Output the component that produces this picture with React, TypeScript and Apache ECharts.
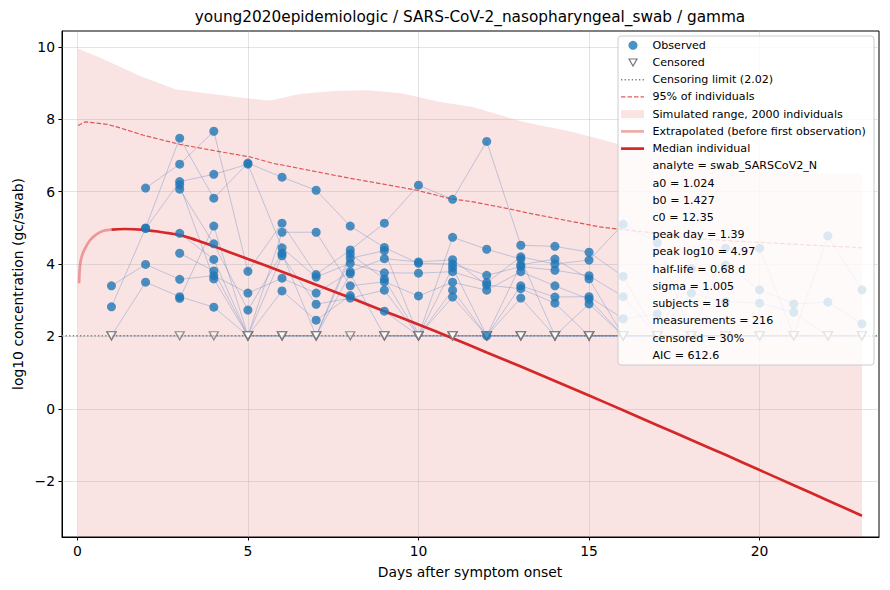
import React, { useEffect, useRef } from "react";
import * as echarts from "echarts";

const TITLE = "young2020epidemiologic / SARS-CoV-2_nasopharyngeal_swab / gamma";
const X_LABEL = "Days after symptom onset";
const Y_LABEL = "log10 concentration (gc/swab)";
const X_TICKS = [0, 5, 10, 15, 20];
const Y_TICKS = [-2, 0, 2, 4, 6, 8, 10];
const X_MIN = -0.45;
const X_MAX = 23.5;
const Y_MIN = -3.54;
const Y_MAX = 10.44;
const CENSOR_LIMIT = 2.02;

// Simulated range (upper edge; lower edge lies below the axis)
const bandDays = [0.02, 0.67, 1.84, 2.87, 3.99, 4.97, 5.65, 6.53, 7.5, 8.5, 9.5, 10.63, 11.6, 13.06, 14.53, 15.8, 17, 18, 19, 20, 21, 22, 23];
const bandUpper = [9.95, 9.7, 9.2, 8.83, 8.69, 8.58, 8.52, 8.7, 8.78, 8.8, 8.72, 8.48, 8.34, 7.93, 7.65, 7.33, 7.1, 6.9, 6.75, 6.65, 6.55, 6.5, 6.5];

// 95% of individuals
const p95Days = [0.02, 0.23, 0.87, 1.16, 1.94, 3.0, 4.09, 5.07, 5.75, 6.04, 6.53, 7.02, 8.0, 8.97, 9.95, 10.92, 11.6, 12.58, 13.27, 14.53, 15.3, 16, 17, 18, 19, 20, 21, 22, 23];
const p95Values = [7.83, 7.93, 7.86, 7.79, 7.56, 7.31, 7.12, 6.96, 6.78, 6.73, 6.64, 6.55, 6.37, 6.21, 6.04, 5.81, 5.72, 5.54, 5.4, 5.17, 5.03, 4.95, 4.85, 4.72, 4.65, 4.6, 4.55, 4.5, 4.45];

// Median individual: extrapolated part (before first observation)
const extrapDays = [0.05, 0.08, 0.14, 0.23, 0.38, 0.57, 0.77, 1.0];
const extrapValues = [3.47, 3.98, 4.25, 4.44, 4.67, 4.83, 4.92, 4.95];

// Median individual
const medianDays = [1, 1.39, 2, 2.5, 3, 3.5, 4, 5, 6, 7, 8, 9, 10, 11, 12, 13, 14, 15, 16, 17, 18, 19, 20, 21, 22, 23];
const medianValues = [4.95, 4.97, 4.94, 4.88, 4.8, 4.66, 4.49, 4.14, 3.79, 3.43, 3.07, 2.7, 2.33, 1.95, 1.56, 1.17, 0.77, 0.37, -0.04, -0.45, -0.86, -1.27, -1.69, -2.11, -2.53, -2.95];

// Subjects: [day, log10 value] ; null = censored (below limit)
type Pt = [number, number | null];
const S1: Pt[] = [[1, 3.4], [2, 3.99], [3, 3.58], [4, 3.68], [5, 3.2], [6, 3.61], [7, 3.2], [8, 3.79], [9, 4.15], [10, 4.06], [11, 4.12], [12, 3.42], [13, 3.32], [14, 2.92], [15, null], [16, null]];
const S2: Pt[] = [[1, 2.82], [2, 5.0], [3, 7.48], [4, 5.82], [5, 6.79], [6, 6.4], [7, 6.04], [8, 5.05], [9, 4.46], [10, 4.02], [11, 4.0], [12, 3.69], [13, 3.93], [14, 3.83], [15, 3.68], [16, 3.1], [17, null], [18, 3.2], [19, 2.96], [20, 2.92], [21, 2.67], [22, null], [23, null]];
const S3: Pt[] = [[1, null], [2, 3.5], [3, 3.1], [4, 2.81], [5, null], [6, 3.26], [7, 2.45], [8, 3.13], [9, 2.7], [10, null], [11, 3.09], [12, 2.02], [13, 3.06], [14, null], [15, null], [17, null]];
const S4: Pt[] = [[2, 6.1], [3, 6.76], [4, 7.67], [5, 3.8], [6, 5.13], [7, 3.71], [8, 4.39], [9, 5.13], [10, 6.18], [11, 5.79], [12, 7.39], [13, 4.52], [14, 4.49], [15, 4.33], [16, 3.66], [17, null], [18, 3.88], [19, 3.98], [20, 3.29], [21, 2.9], [22, 2.95], [23, 2.35]];
const S5: Pt[] = [[2, 4.98], [3, 6.28], [4, 6.48], [5, 6.76], [6, 4.45], [7, 3.64], [8, 4.02], [9, 3.76], [10, 3.75], [11, 3.79], [12, 3.49], [13, 4.2], [14, 4.0], [15, 4.11], [16, 5.1], [17, 4.59], [18, null], [19, 4.44], [20, 4.44], [21, null], [22, 4.78], [23, 3.29]];
const S6: Pt[] = [[3, 6.19], [4, 3.59], [5, null], [6, 4.88], [7, 4.88], [8, 3.4], [9, 3.51], [10, 3.12], [11, 3.5], [12, 3.28], [13, 3.79], [14, 3.4], [15, 3.03], [16, null], [17, null], [18, null], [19, null]];
const S7: Pt[] = [[3, 6.07], [4, 4.56], [5, 2.73], [6, 4.3], [7, null], [8, 4.28], [9, 3.59], [10, null], [11, 3.9], [12, null], [13, 3.98], [14, 4.14], [15, 3.59], [16, null], [18, null], [20, null]];
const S8: Pt[] = [[3, 4.85], [4, 4.13], [5, null], [6, 4.23], [7, 2.89], [8, 3.06], [9, 3.28], [10, null], [11, 3.28], [12, null], [13, 3.4], [14, 3.09], [15, 3.1], [16, 2.49], [17, 2.62], [18, null], [19, null], [21, null]];
const S9: Pt[] = [[3, 4.3], [4, 3.81], [5, null], [6, null], [7, null], [8, 4.16], [9, 4.37], [10, null], [11, 4.74], [12, 4.41], [13, 4.14], [14, null], [15, 2.9], [16, null], [17, null], [19, null], [22, null]];
const S10: Pt[] = [[3, 3.05], [4, 5.05], [5, null], [6, null], [7, null], [8, 3.73], [9, null], [10, null], [11, null], [12, null], [13, null], [14, null], [15, null], [16, null], [17, null], [18, null], [20, null], [21, null], [22, null], [23, null]];
const S11: Pt[] = [[1, null], [3, null], [4, null], [5, null], [6, null], [7, null], [8, null], [9, null], [10, null], [11, null], [12, null], [13, null]];
const S12: Pt[] = [[9, null], [10, null], [11, null], [12, null], [13, null], [14, null], [15, null], [16, null], [17, null], [18, null], [19, null], [20, null]];
const S13: Pt[] = [[12, null], [13, null], [14, null], [15, null], [16, null], [17, null], [18, null], [19, null], [20, null], [21, null], [22, null], [23, null]];
const SUBJECTS: Pt[][] = [S1, S2, S3, S4, S5, S6, S7, S8, S9, S10, S11, S12, S13];

const LEGEND_LABELS = [
  "Observed",
  "Censored",
  "Censoring limit (2.02)",
  "95% of individuals",
  "Simulated range, 2000 individuals",
  "Extrapolated (before first observation)",
  "Median individual",
];
const STAT_LINES = [
  "analyte = swab_SARSCoV2_N",
  "a0 = 1.024",
  "b0 = 1.427",
  "c0 = 12.35",
  "peak day = 1.39",
  "peak log10 = 4.97",
  "half-life = 0.68 d",
  "sigma = 1.005",
  "subjects = 18",
  "measurements = 216",
  "censored = 30%",
  "AIC = 612.6",
];

const FONT = "DejaVu Sans";
const RED = "#d62728";
const BLUE = "#1f77b4";

function zip(xs: number[], ys: number[]) {
  return xs.map((x, i) => [x, ys[i]]);
}

export default function App() {
  const ref = useRef<HTMLDivElement>(null);
  useEffect(() => {
    if (!ref.current) return;
    const chart = echarts.init(ref.current, undefined, { renderer: "svg" });

    const observed = SUBJECTS.flatMap((s) => s.filter((p) => p[1] !== null).map((p) => [p[0], p[1]]));
    const censored = SUBJECTS.flatMap((s) => s.filter((p) => p[1] === null).map((p) => [p[0], CENSOR_LIMIT]));

    const subjectSeries = SUBJECTS.map((s) => ({
      type: "line",
      data: s.map((p) => [p[0], p[1] === null ? CENSOR_LIMIT : p[1]]),
      symbol: "none",
      lineStyle: { color: "rgba(70,120,190,0.32)", width: 1 },
      z: 4,
      silent: true,
    }));

    // legend graphic
    const LX = 618, LY = 36, LW = 256, LH = 329;
    const rowY = (i: number) => 45.3 + i * 17.22;
    const hx0 = 621, hx1 = 644, tx = 652.5;
    const Z = 100;
    const legendEls: any[] = [
      {
        type: "rect",
        z: Z,
        shape: { x: LX, y: LY, width: LW, height: LH, r: 3 },
        style: { fill: "rgba(255,255,255,0.8)", stroke: "#cccccc", lineWidth: 1 },
      },
      { type: "circle", z: Z + 1, shape: { cx: 633, cy: rowY(0), r: 4.5 }, style: { fill: BLUE, opacity: 0.8 } },
      {
        type: "polygon",
        z: Z + 1,
        shape: { points: [[629, rowY(1) - 3.5], [637, rowY(1) - 3.5], [633, rowY(1) + 3.5]] },
        style: { fill: "#ffffff", stroke: "#777777", lineWidth: 1.2 },
      },
      { type: "line", z: Z + 1, shape: { x1: hx0, y1: rowY(2), x2: hx1, y2: rowY(2) }, style: { stroke: "#808080", lineWidth: 1.3, lineDash: [1.3, 2.3] } },
      { type: "line", z: Z + 1, shape: { x1: hx0, y1: rowY(3), x2: hx1, y2: rowY(3) }, style: { stroke: RED, opacity: 0.75, lineWidth: 1.2, lineDash: [4.5, 2] } },
      { type: "rect", z: Z + 1, shape: { x: hx0, y: rowY(4) - 4, width: hx1 - hx0, height: 8 }, style: { fill: RED, opacity: 0.13 } },
      { type: "line", z: Z + 1, shape: { x1: hx0, y1: rowY(5), x2: hx1, y2: rowY(5) }, style: { stroke: RED, opacity: 0.4, lineWidth: 2.7 } },
      { type: "line", z: Z + 1, shape: { x1: hx0, y1: rowY(6), x2: hx1, y2: rowY(6) }, style: { stroke: RED, lineWidth: 2.7 } },
    ];
    [...LEGEND_LABELS, ...STAT_LINES].forEach((t, i) => {
      legendEls.push({
        type: "text",
        z: Z + 2,
        x: tx,
        y: rowY(i),
        style: { text: t, fill: "#000", fontSize: 11.1, fontFamily: FONT, align: "left", verticalAlign: "middle" },
      });
    });

    chart.setOption({
      animation: false,
      grid: {
        left: 62,
        top: 31,
        width: 817,
        height: 506,
        show: true,
        borderColor: "#000",
        borderWidth: 1,
        backgroundColor: "transparent",
      },
      xAxis: {
        type: "value",
        min: X_MIN,
        max: X_MAX,
        axisLine: { show: true, onZero: false, lineStyle: { color: "#000", width: 1 } },
        axisTick: { show: true, customValues: X_TICKS, length: 3.5, lineStyle: { color: "#000" } },
        axisLabel: { customValues: X_TICKS, color: "#000", fontSize: 13.9, fontFamily: FONT, margin: 7 },
        splitLine: { show: false },
      },
      yAxis: {
        type: "value",
        min: Y_MIN,
        max: Y_MAX,
        axisLine: { show: true, onZero: false, lineStyle: { color: "#000", width: 1 } },
        axisTick: { show: true, customValues: Y_TICKS, length: 3.5, lineStyle: { color: "#000" } },
        axisLabel: {
          customValues: Y_TICKS,
          color: "#000",
          fontSize: 13.9,
          fontFamily: FONT,
          margin: 7,
          formatter: (v: number) => String(v).replace("-", "\u2212"),
        },
        splitLine: { show: false },
      },
      series: [
        {
          type: "line",
          data: zip(bandDays, bandUpper),
          symbol: "none",
          lineStyle: { opacity: 0, width: 0 },
          areaStyle: { color: RED, opacity: 0.13, origin: "start" },
          z: 1,
          silent: true,
        },
        {
          type: "line",
          data: [[X_MIN, CENSOR_LIMIT], [X_MAX, CENSOR_LIMIT]],
          symbol: "none",
          lineStyle: { color: "#808080", width: 1.3, type: [1.3, 2.3] },
          z: 3,
          silent: true,
          markLine: {
            silent: true,
            symbol: "none",
            label: { show: false },
            lineStyle: { color: "rgba(176,176,176,0.45)", width: 0.8, type: "solid" },
            data: [...X_TICKS.map((v) => ({ xAxis: v })), ...Y_TICKS.map((v) => ({ yAxis: v }))],
            z: 2,
          },
        },
        ...subjectSeries,
        {
          type: "line",
          data: zip(p95Days, p95Values),
          symbol: "none",
          lineStyle: { color: RED, opacity: 0.75, width: 1.2, type: [4.5, 2] },
          z: 5,
          silent: true,
        },
        {
          type: "line",
          data: zip(extrapDays, extrapValues),
          symbol: "none",
          smooth: 0.3,
          lineStyle: { color: RED, opacity: 0.4, width: 2.7 },
          z: 5,
          silent: true,
        },
        {
          type: "line",
          data: zip(medianDays, medianValues),
          symbol: "none",
          smooth: true,
          lineStyle: { color: RED, width: 2.7 },
          z: 5,
          silent: true,
        },
        {
          type: "scatter",
          data: censored,
          symbol: "triangle",
          symbolRotate: 180,
          symbolSize: [9, 8],
          itemStyle: { color: "rgba(255,255,255,0.6)", borderColor: "#777777", borderWidth: 1.3 },
          z: 6,
          silent: true,
        },
        {
          type: "scatter",
          data: observed,
          symbol: "circle",
          symbolSize: 9,
          itemStyle: { color: BLUE, opacity: 0.8 },
          z: 7,
          silent: true,
        },
      ],
      graphic: [
        {
          type: "text",
          x: 470,
          y: 17,
          z: Z,
          style: { text: TITLE, fill: "#000", fontSize: 15.3, fontFamily: FONT, align: "center", verticalAlign: "middle" },
        },
        {
          type: "text",
          x: 470,
          y: 572,
          z: Z,
          style: { text: X_LABEL, fill: "#000", fontSize: 13.9, fontFamily: FONT, align: "center", verticalAlign: "middle" },
        },
        {
          type: "text",
          x: 18,
          y: 284,
          z: Z,
          rotation: Math.PI / 2,
          style: { text: Y_LABEL, fill: "#000", fontSize: 13.9, fontFamily: FONT, align: "center", verticalAlign: "middle" },
        },
        ...legendEls,
      ],
    });
    return () => chart.dispose();
  }, []);
  return <div ref={ref} style={{ position: "absolute", left: 0, top: 0, width: 890, height: 590 }} />;
}
